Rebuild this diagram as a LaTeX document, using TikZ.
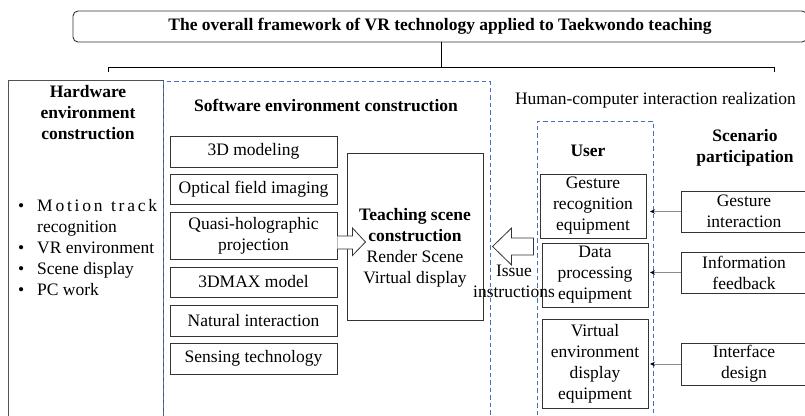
\documentclass[tikz,border=0pt]{standalone}
\usepackage{fontspec}
\setmainfont{Liberation Serif}
\usetikzlibrary{arrows.meta,calc}
\definecolor{boxline}{HTML}{333333}
\definecolor{dashblue}{HTML}{4471C0}
\definecolor{arrgray}{HTML}{8C8C8C}
\tikzset{
  x=1pt,y=1pt,
  every node/.style={font=\fontsize{17.5}{21}\selectfont, inner sep=0pt},
  plainbox/.style={draw=boxline, line width=0.9pt, fill=white},
  dashbox/.style={draw=dashblue, line width=1pt, dash pattern=on 4.5pt off 3pt},
  txt/.style={align=center},
  bold/.style={font=\fontsize{17.5}{21}\selectfont\bfseries, align=center},
  feed/.style={draw=arrgray, line width=0.8pt, -{Stealth[length=5pt,width=4.5pt,color=black]}},
  hollow/.style={draw=boxline, line width=0.8pt, fill=white, line join=miter},
}
\newcommand{\bulitem}{\makebox[21pt][l]{\hspace{2pt}\textbullet}}
\begin{document}
\begin{tikzpicture}
\clip (0,0) rectangle (805,-415);
\fill[white] (0,0) rectangle (805,-415);

% headline
\node[draw=boxline, line width=0.9pt, rounded corners=5pt, minimum width=734pt, minimum height=31pt,
      font=\fontsize{17.5}{21}\selectfont\bfseries] (title) at (440,-26.5)
  {The overall framework of VR technology applied to Taekwondo teaching};
\coordinate (brL) at (108,-67);
\coordinate (brR) at (774,-67);
\coordinate (brM) at (441,-67);
\draw[line width=0.8pt] (title.south -| brM) -- (brM);
\draw[line width=0.8pt] ([yshift=-5pt]brL) -- (brL) -- (brR) -- ([yshift=-5pt]brR);

% hardware column
\node[plainbox, draw=boxline!85, line width=1.1pt, minimum width=155pt, minimum height=345pt, anchor=north west] (hw) at (8,-80) {};
\node[bold] (hwtitle) at (88,-112.5) {Hardware\\environment\\construction};
\node[anchor=base west] (hw1) at (16,-211.5) {\bulitem\makebox[120pt][s]{M\hfill o\hfill t\hfill i\hfill o\hfill n\hfill\hfill\hfill t\hfill r\hfill a\hfill c\hfill k}};
\node[anchor=base west] (hw2) at (37,-232.5) {recognition};
\node[anchor=base west] (hw3) at (16,-253.5) {\bulitem VR environment};
\node[anchor=base west] (hw4) at (16,-274.5) {\bulitem Scene display};
\node[anchor=base west] (hw5) at (16,-295.5) {\bulitem PC work};

% software column
\draw[dashbox] (163,-430) |- (490,-81) -- (490,-430);
\node[bold] (swtitle) at (326,-105) {Software environment construction};
\tikzset{modbox/.style={plainbox, minimum width=167pt, txt}}
\node[modbox, minimum height=31pt] (m1) at (253.5,-151.5) {3D modeling};
\node[modbox, minimum height=30pt] (m2) at (253.5,-189) {Optical field imaging};
\node[modbox, minimum height=47pt] (m3) at (253.5,-235.5) {Quasi-holographic\\projection};
\node[modbox, minimum height=30pt] (m4) at (253.5,-282) {3DMAX model};
\node[modbox, minimum height=31pt] (m5) at (253.5,-320.5) {Natural interaction};
\node[modbox, minimum height=31pt] (m6) at (253.5,-358.5) {Sensing technology};

\node[plainbox, minimum width=136pt, minimum height=167pt] (teach) at (415,-236.5) {};
\node[txt] (teachtxt) at (415,-247.5) {\textbf{Teaching scene}\\\textbf{construction}\\Render Scene\\Virtual display};

% hollow arrow into the scene box
\draw[hollow] ($(m3.east)+(0,-0.5)$) -- ++(15,0) -- ++(0,8) -- ++(13,-14) -- ++(-13,-13.5) -- ++(0,6.5) -- ++(-15,0);

% interaction side
\node[font=\fontsize{17.5}{21}\selectfont] (hcititle) at (655.5,-100) {Human-computer interaction realization};
\draw[dashbox] (537,-430) |- (653,-121) -- (653,-430);
\coordinate (ubox) at (653,-121);
\node[bold] (usertitle) at (588,-151) {User};
\node[bold] (scentitle) at (745,-147.5) {Scenario\\participation};

\tikzset{ubx/.style={plainbox, minimum width=106pt, txt}}
\node[ubx, minimum height=64pt] (u1) at (593,-206) {Gesture\\recognition\\equipment};
\node[ubx, minimum height=64pt] (u2) at (595,-275) {Data\\processing\\equipment};
\node[ubx, minimum height=89pt] (u3) at (595,-363.5) {Virtual\\environment\\display\\equipment};

\tikzset{sbx/.style={plainbox, minimum width=126pt, minimum height=41pt, txt}}
\node[sbx] (s1) at (744,-211.5) {Gesture\\interaction};
\node[sbx] (s2) at (744,-272.5) {Information\\feedback};
\node[sbx, minimum height=42pt] (s3) at (744,-364) {Interface\\design};

\draw[feed] (s1.west) -- ([xshift=-3pt]s1.west -| ubox);
\draw[feed] (s2.west) -- ([xshift=-3pt]s2.west -| ubox);
\draw[feed] (s3.west) -- ([xshift=-3pt]s3.west -| ubox);

% hollow arrow back to the scene box
\draw[hollow] ($(u2.west)+(-8,37)$) -- ++(-22,0) -- ++(0,10) -- ++(-19,-18.5) -- ++(19,-18.5) -- ++(0,10) -- ++(22,0) -- cycle;
\node[txt] (issue) at (514,-281.5) {Issue\\instructions};
\end{tikzpicture}
\end{document}
